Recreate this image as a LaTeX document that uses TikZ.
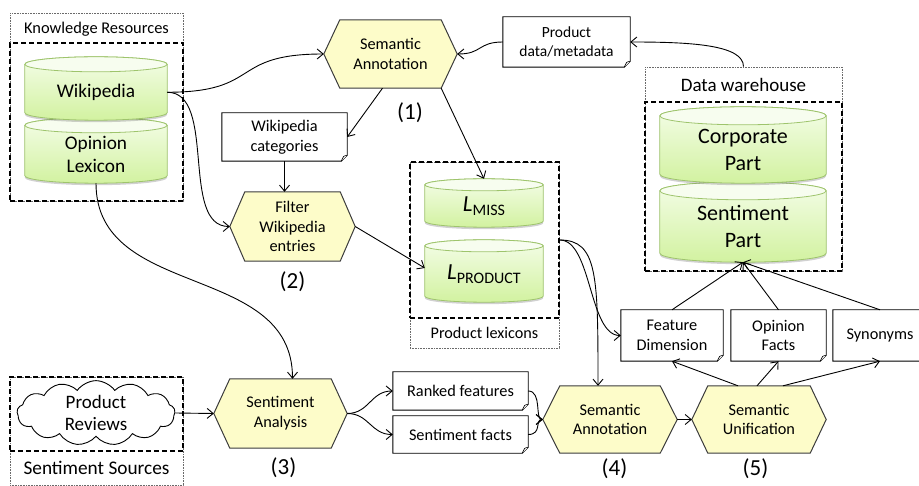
\documentclass[tikz,border=0pt]{standalone}
\usepackage{fontspec}
\setmainfont{Carlito}
\usetikzlibrary{shapes.symbols,arrows.meta,backgrounds,calc,shadows}

\definecolor{hexfill}{HTML}{FDFCC9}
\definecolor{hexline}{HTML}{3C3C3C}
\definecolor{cyltopc}{HTML}{F4FDE8}
\definecolor{cylbotc}{HTML}{D2F2A0}
\definecolor{cylline}{HTML}{9EC46C}
\definecolor{cyllid}{HTML}{F7FDEF}
\definecolor{dotgray}{HTML}{6A6A6A}

\newcommand\setfs[2]{\fontsize{#1}{#2}\selectfont}

% cylinder drawn round a named node; #2 is the lid's vertical radius
\newcommand\drawcyl[2]{%
  \path[cylbody] let \p1=(#1.north west), \p2=(#1.north east), \n1={(\x2-\x1)/2} in
    (#1.north west) -- ([yshift=#2]#1.south west)
    arc[start angle=180, end angle=360, x radius=\n1, y radius=#2]
    -- (#1.north east)
    arc[start angle=0, end angle=180, x radius=\n1, y radius=#2] -- cycle;
  \path[cyltop] let \p1=(#1.north west), \p2=(#1.north east), \n1={(\x2-\x1)/2} in
    (#1.north) ellipse[x radius=\n1, y radius=#2];
}
% hexagonal process shape round a named node; #2 is the point depth
\newcommand\hexdraw[2]{%
  \draw[hexshape] (#1.west) -- ([xshift=#2]#1.north west) -- ([xshift=-#2]#1.north east)
    -- (#1.east) -- ([xshift=-#2]#1.south east) -- ([xshift=#2]#1.south west) -- cycle;
}
% document with a turned-down lower right corner
\newcommand\docdraw[1]{%
  \draw[docshape] (#1.north west) -- (#1.north east) -- ([yshift=6pt]#1.south east)
    -- ([xshift=-6pt]#1.south east) -- (#1.south west) -- cycle;
  \draw[docshape, line width=0.6pt] ([yshift=6pt]#1.south east)
    .. controls ([xshift=-4pt,yshift=5pt]#1.south east) .. ([xshift=-5pt,yshift=2pt]#1.south east)
    -- ([xshift=-6pt]#1.south east);
}

\begin{document}
\begin{tikzpicture}[x=1pt, y=-1pt,
  hexnode/.style={rectangle, inner sep=0pt, align=center, font=\setfs{16.3}{19.8}},
  docnode/.style={rectangle, inner sep=0pt, align=center, font=\setfs{16.3}{19.8}},
  cylnode/.style={rectangle, inner sep=0pt, align=center},
  dashframe/.style={rectangle, inner sep=0pt, draw=black, line width=1.5pt, dash pattern=on 5pt off 3pt},
  dotframe/.style={rectangle, inner sep=0pt, draw=dotgray, line width=0.7pt, dash pattern=on 0.8pt off 0.8pt},
  numlabel/.style={font=\setfs{23}{26}},
  hexshape/.style={fill=hexfill, draw=hexline, line width=1pt},
  docshape/.style={fill=white, draw=black, line width=0.9pt},
  cylbody/.style={draw=cylline, line width=0.8pt, top color=cyltopc, bottom color=cylbotc,
    drop shadow={shadow xshift=0pt, shadow yshift=-2pt, opacity=0.3, fill=black!60}},
  cyltop/.style={draw=cylline, line width=0.8pt, fill=cyllid},
  conn/.style={draw=black, line width=0.9pt, -{Straight Barb[length=6pt,width=10pt]}},
]
\useasboundingbox (0,0) rectangle (919,486);

% ---- group frames ----
\node[dotframe, minimum width=173pt, minimum height=188pt] (krbox) at (96.5,107) {};
\node[dashframe, minimum width=173pt, minimum height=158pt] (krframe) at (96.5,122) {};
\node[font=\setfs{16.4}{20}] (krlabel) at (96.5,29) {Knowledge Resources};

\node[dotframe, minimum width=149pt, minimum height=186pt] (plexbox) at (484.5,255) {};
\node[dashframe, minimum width=149pt, minimum height=156pt] (plex) at (484.5,240) {};
\node[font=\setfs{16.2}{20}] (plexlabel) at (484.5,333) {Product lexicons};

\node[dotframe, minimum width=197pt, minimum height=204pt] (dwbox) at (743.5,169) {};
\node[dashframe, minimum width=197pt, minimum height=169pt] (dwframe) at (743.5,186.5) {};
\node[font=\setfs{19}{23}] (dwlabel) at (743.5,85) {Data warehouse};

\node[dotframe, minimum width=173pt, minimum height=108pt] (ssbox) at (96.5,431) {};
\node[dashframe, minimum width=173pt, minimum height=74pt] (ssframe) at (96.5,414) {};
\node[font=\setfs{19.3}{23}] (sslabel) at (96.5,468) {Sentiment Sources};

% ---- data stores ----
\node[cylnode, minimum width=142pt, minimum height=55.5pt, font=\setfs{19.3}{23}] (wiki) at (96,92.25) {Wikipedia};
\node[cylnode, minimum width=142pt, minimum height=57.5pt, font=\setfs{19.3}{23}] (opin) at (96,154.25) {Opinion\\Lexicon};
\node[cylnode, minimum width=166pt, minimum height=67pt, font=\setfs{22}{27}] (corp) at (743,149.5) {Corporate\\Part};
\node[cylnode, minimum width=166pt, minimum height=71pt, font=\setfs{22}{27}] (spart) at (743,226.5) {Sentiment\\Part};
\node[cylnode, minimum width=118pt, minimum height=42pt] (lmiss) at (484,206)
  {{\setfs{23}{26}\itshape L}{\setfs{16}{19}\raisebox{-4pt}{MISS}}};
\node[cylnode, minimum width=118pt, minimum height=56pt] (lprod) at (484,274)
  {{\setfs{23}{26}\itshape L}{\setfs{16}{19}\raisebox{-4pt}{PRODUCT}}};

% ---- processes ----
\node[hexnode, minimum width=133pt, minimum height=68pt] (sa1) at (390.5,54) {Semantic\\Annotation};
\node[hexnode, minimum width=125pt, minimum height=69pt] (flt) at (292.5,226.5) {Filter\\Wikipedia\\entries};
\node[hexnode, minimum width=133pt, minimum height=69pt] (sa3) at (280.5,413.5) {Sentiment\\Analysis};
\node[hexnode, minimum width=134pt, minimum height=67pt] (sa4) at (610,419.5) {Semantic\\Annotation};
\node[hexnode, minimum width=134pt, minimum height=67pt] (su5) at (759,419.5) {Semantic\\Unification};

\node[numlabel] (n1) at (410,113) {(1)};
\node[numlabel] (n2) at (292.5,282) {(2)};
\node[numlabel] (n3) at (283.5,468) {(3)};
\node[numlabel] (n4) at (614.5,469) {(4)};
\node[numlabel] (n5) at (755.5,469) {(5)};

% ---- documents ----
\node[docnode, minimum width=127pt, minimum height=50pt, font=\setfs{15.5}{19}] (pdata) at (566.5,42) {Product\\data/metadata};
\node[docnode, minimum width=125pt, minimum height=48pt] (wcat) at (284.5,137) {Wikipedia\\categories};
\node[docnode, minimum width=135pt, minimum height=38pt] (rf) at (460.5,391) {Ranked features};
\node[docnode, minimum width=135pt, minimum height=37pt] (sf) at (460.5,434.5) {Sentiment facts};
\node[docnode, minimum width=102pt, minimum height=51pt] (fd) at (672,335.5) {Feature\\Dimension};
\node[docnode, minimum width=95pt, minimum height=51pt] (of) at (778.5,335.5) {Opinion\\Facts};
\node[docnode, minimum width=94pt, minimum height=51pt] (syn) at (880,335.5) {Synonyms};

% ---- source ----
\node[cloud, cloud puffs=13, cloud puff arc=110, aspect=2.6, draw=black, fill=white, line width=0.9pt,
  inner sep=0pt, minimum width=158pt, minimum height=60pt, align=center, font=\setfs{19}{22}]
  (cloud) at (96,413) {Product\\Reviews};

% ---- shapes behind the texts ----
\begin{scope}[on background layer]
  \drawcyl{opin}{7.5pt}
  \drawcyl{wiki}{7.5pt}
  \drawcyl{spart}{9pt}
  \drawcyl{corp}{9pt}
  \drawcyl{lmiss}{6pt}
  \drawcyl{lprod}{6pt}
  \hexdraw{sa1}{16pt}
  \hexdraw{flt}{15pt}
  \hexdraw{sa3}{16pt}
  \hexdraw{sa4}{17pt}
  \hexdraw{su5}{16pt}
  \docdraw{pdata}
  \docdraw{wcat}
  \docdraw{rf}
  \docdraw{sf}
  \docdraw{fd}
  \docdraw{of}
  \docdraw{syn}
\end{scope}

% ---- connectors ----
\draw[conn] (wiki.east) .. controls +(95,0) and +(-95,0) .. (sa1.west);
\draw[conn] (wiki.east) .. controls +(50,0) and +(-50,0) .. (flt.west);
\draw[conn] (opin.south) .. controls +(0,117) and +(0,-117) .. ([xshift=12pt]sa3.north);
\draw[conn] (pdata.west) .. controls +(-25,0) and +(25,0) .. (sa1.east);
\draw[conn] (dwbox.north) .. controls +(0,-22) and +(60,0) .. (pdata.east);
\draw[conn] ([xshift=-8pt]sa1.south) -- (wcat.east);
\draw[conn] ([xshift=-16pt]sa1.south east) -- ([yshift=6pt]lmiss.north);
\draw[conn] (wcat.south) -- (wcat.south |- flt.north);
\draw[conn] (flt.east) -- ([yshift=6pt]lprod.west);
\draw[conn] (plex.east) .. controls +(32,0) and +(-32,0) .. (fd.west);
\draw[conn] (plex.east) .. controls +(38,0) and +(0,-110) .. ([xshift=-12pt]sa4.north);
\draw[conn] (cloud.east) -- (sa3.west);
\draw[conn] (sa3.east) .. controls +(22,0) and +(-22,0) .. (rf.west);
\draw[conn] (sa3.east) .. controls +(22,0) and +(-22,0) .. (sf.west);
\draw[conn] (rf.east) .. controls +(14,0) and +(-8,0) .. (sa4.west);
\draw[conn] (sf.east) .. controls +(14,0) and +(-8,0) .. (sa4.west);
\draw[conn] (sa4.east) -- (su5.west);
\draw[conn] ([xshift=-21pt]su5.north) -- (fd.south);
\draw[conn] ([xshift=-2pt]su5.north) -- (of.south);
\draw[conn] ([xshift=24pt]su5.north) -- (syn.south);
\draw[conn] (fd.north) -- (spart.south);
\draw[conn] (of.north) -- (spart.south);
\draw[conn] (syn.north) -- (spart.south);
\end{tikzpicture}
\end{document}
